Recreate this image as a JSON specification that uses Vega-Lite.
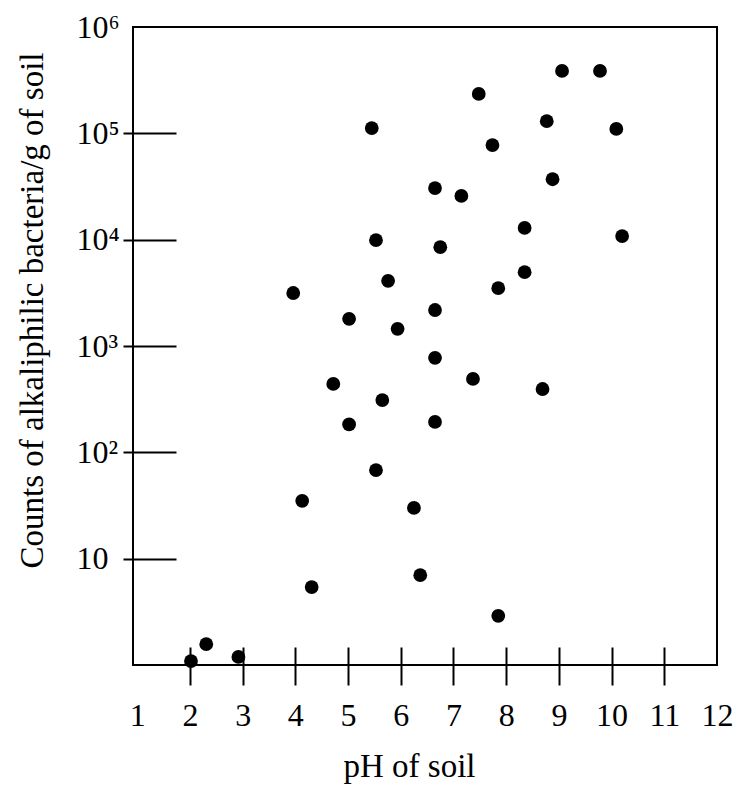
{
  "$schema": "https://vega.github.io/schema/vega-lite/v6.json",
  "width": 584,
  "height": 638,
  "autosize": "none",
  "padding": {"left": 133, "top": 27, "right": 34, "bottom": 134},
  "background": "white",
  "config": {
    "view": {"stroke": "black", "strokeWidth": 2},
    "axis": {"domain": false, "grid": false}
  },
  "data": {
    "values": [
      {"pH": 2.02, "count": 1.09},
      {"pH": 2.31, "count": 1.57},
      {"pH": 2.92, "count": 1.19},
      {"pH": 3.96, "count": 3150},
      {"pH": 4.13, "count": 35},
      {"pH": 4.31, "count": 5.4},
      {"pH": 4.72, "count": 440},
      {"pH": 5.02, "count": 1800},
      {"pH": 5.02, "count": 183},
      {"pH": 5.45, "count": 112000},
      {"pH": 5.53, "count": 9900},
      {"pH": 5.53, "count": 68},
      {"pH": 5.65, "count": 310},
      {"pH": 5.76, "count": 4100},
      {"pH": 5.94, "count": 1450},
      {"pH": 6.25, "count": 30},
      {"pH": 6.37, "count": 7.0},
      {"pH": 6.65, "count": 30600},
      {"pH": 6.65, "count": 2180},
      {"pH": 6.65, "count": 775},
      {"pH": 6.65, "count": 193},
      {"pH": 6.75, "count": 8500},
      {"pH": 7.15, "count": 25800},
      {"pH": 7.37, "count": 490},
      {"pH": 7.48, "count": 235000},
      {"pH": 7.74, "count": 77500},
      {"pH": 7.85, "count": 3500},
      {"pH": 7.85, "count": 2.9},
      {"pH": 8.35, "count": 4950},
      {"pH": 8.35, "count": 12900},
      {"pH": 8.69, "count": 394},
      {"pH": 8.77, "count": 130000},
      {"pH": 8.88, "count": 37000},
      {"pH": 9.06, "count": 386000},
      {"pH": 9.78, "count": 386000},
      {"pH": 10.09, "count": 110000},
      {"pH": 10.2, "count": 10800}
    ]
  },
  "mark": {"type": "point", "shape": "circle", "filled": true, "color": "black", "opacity": 1, "size": 190},
  "encoding": {
    "x": {
      "field": "pH",
      "type": "quantitative",
      "scale": {"domain": [0.92, 12], "nice": false, "zero": false},
      "axis": {
        "orient": "bottom",
        "values": [1, 2, 3, 4, 5, 6, 7, 8, 9, 10, 11, 12],
        "offset": -18,
        "tickSize": 38,
        "tickWidth": 2,
        "tickColor": "black",
        "tickOpacity": {"condition": {"test": "datum.value === 1 || datum.value === 12", "value": 0}, "value": 1},
        "labelPadding": 40,
        "labelBaseline": "alphabetic",
        "labelFont": "Liberation Serif",
        "labelFontSize": 32,
        "labelColor": "black",
        "labelOverlap": false,
        "labelFlush": false,
        "labelBound": false,
        "format": "d",
        "title": "pH of soil",
        "titleFont": "Liberation Serif",
        "titleFontSize": 33,
        "titleFontWeight": "normal",
        "titleColor": "black",
        "titleBaseline": "alphabetic",
        "titleAlign": "center",
        "titleX": 276,
        "titleY": 129
      }
    },
    "y": {
      "field": "count",
      "type": "quantitative",
      "scale": {"type": "log", "domain": [1, 1000000], "nice": false},
      "axis": {
        "orient": "left",
        "values": [10, 100, 1000, 10000, 100000, 1000000],
        "offset": -43,
        "tickSize": 53,
        "tickWidth": 2,
        "tickColor": "black",
        "tickOpacity": {"condition": {"test": "datum.value >= 1000000", "value": 0}, "value": 1},
        "labelPadding": 47,
        "labelAlign": "left",
        "labelBaseline": "middle",
        "labelFont": "Liberation Serif",
        "labelFontSize": 32,
        "labelColor": "black",
        "labelOverlap": false,
        "labelFlush": false,
        "labelBound": false,
        "labelExpr": "datum.value == 10 ? '10' : datum.value == 100 ? '10\u00b2' : datum.value == 1000 ? '10\u00b3' : datum.value == 10000 ? '10\u2074' : datum.value == 100000 ? '10\u2075' : '10\u2076'",
        "title": "Counts of alkaliphilic bacteria/g of soil",
        "titleFont": "Liberation Serif",
        "titleFontSize": 33,
        "titleFontWeight": "normal",
        "titleColor": "black",
        "titleBaseline": "alphabetic",
        "titleAngle": -90,
        "titleAlign": "center",
        "titleX": -134,
        "titleY": 283
      }
    }
  }
}
